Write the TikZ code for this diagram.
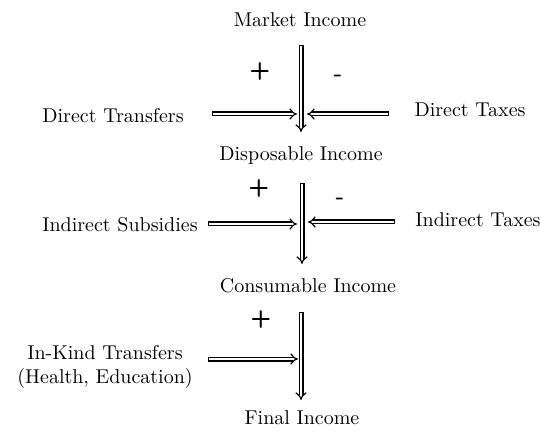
\documentclass[tikz,border=0pt]{standalone}
\usepackage{tikz}
\usetikzlibrary{arrows.meta}
\tikzstyle{lbl}=[inner sep=1pt]
\tikzstyle{sgn}=[inner sep=1pt,font=\sffamily\bfseries\large]
\tikzstyle{flow}=[line width=.6pt,double,double distance=1.3pt,{Bar[width=2.5pt,line width=.6pt]}-{Implies[length=2.2pt]}]
\begin{document}
\begin{tikzpicture}[x=.5pt,y=-.5pt]
  \useasboundingbox (0,0) rectangle (540,432);
  % incomes
  \node[lbl] (mkt)  at (300,20)  {Market Income};
  \node[lbl] (disp) at (301,156) {Disposable Income};
  \node[lbl] (cons) at (308,286) {Consumable Income};
  \node[lbl] (fin)  at (302,418) {Final Income};
  % side items
  \node[lbl] (dtr)  at (113,116) {Direct Transfers};
  \node[lbl] (dtx)  at (470,110) {Direct Taxes};
  \node[lbl] (isub) at (120,225) {Indirect Subsidies};
  \node[lbl] (itx)  at (478,220) {Indirect Taxes};
  \node[lbl,align=center] (ikt) at (105,367) {In-Kind Transfers\\(Health, Education)};
  % signs
  \node[sgn] (p1) at (260,72)  {+};
  \node[sgn] (m1) at (338,78)  {-};
  \node[sgn] (p2) at (259,189) {+};
  \node[sgn] (m2) at (340,201) {-};
  \node[sgn] (p3) at (261,320) {+};
  % stems
  \coordinate (s1a) at (301,45);  \coordinate (s1b) at (301,132);
  \coordinate (s2a) at (302,183); \coordinate (s2b) at (302,264);
  \coordinate (s3a) at (301,312); \coordinate (s3b) at (301,400);
  \draw[flow] (s1a) -- (s1b);
  \draw[flow] (s2a) -- (s2b);
  \draw[flow] (s3a) -- (s3b);
  % inflows and outflows
  \draw[flow] (212,114) coordinate (a1) -- (297,114);
  \draw[flow] (389,114) coordinate (b1) -- (307,114);
  \draw[flow] (208,224) coordinate (a2) -- (297,224);
  \draw[flow] (395,222) coordinate (b2) -- (308,222);
  \draw[flow] (208,359) coordinate (a3) -- (298,359);
\end{tikzpicture}
\end{document}
